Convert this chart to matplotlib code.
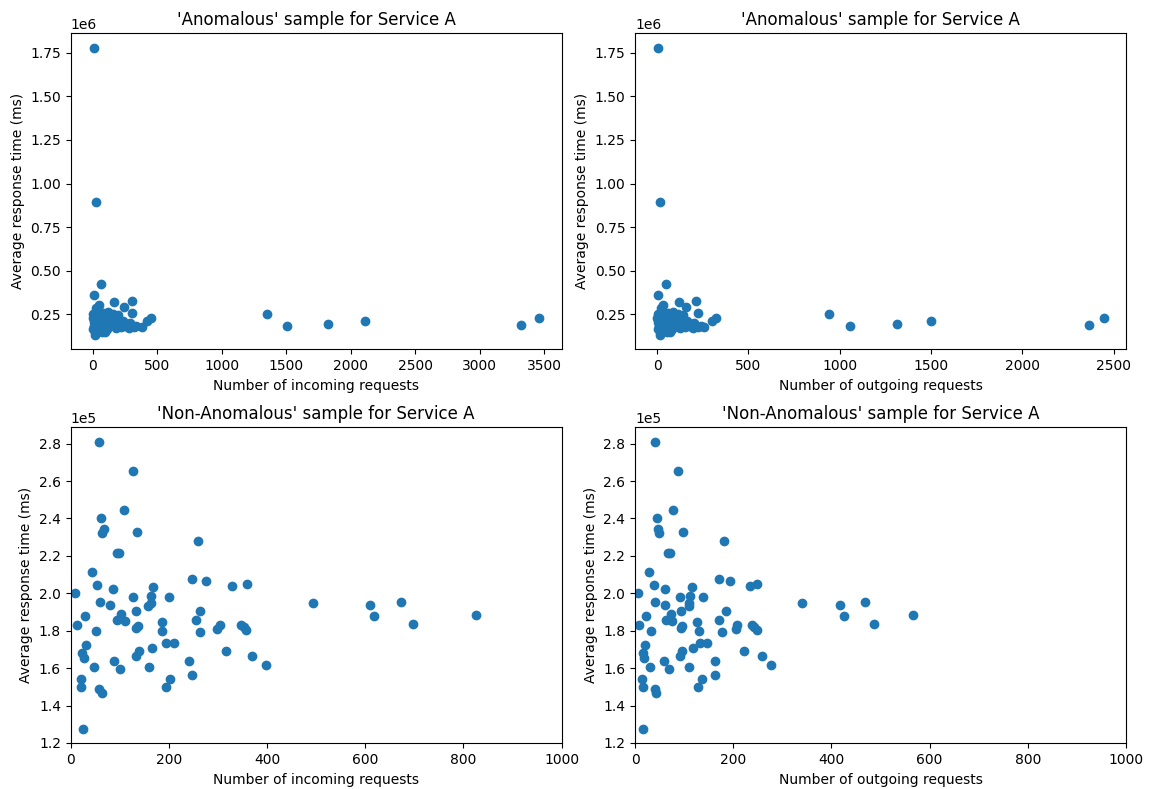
import matplotlib
matplotlib.use('Agg')
import matplotlib.pyplot as plt

# 'Anomalous' sample: incoming / outgoing request counts and mean response time (ms)
anom_incoming = [8, 26, 1354, 1505, 1826, 2110, 3320, 3462,
                 68, 13, 47, 167, 242, 308, 308, 453, 425, 380,
                 5, 10, 15, 20, 25, 21, 8, 30, 35, 40, 55, 60, 65, 70, 80, 85, 90, 99,
                 100, 110, 120, 130, 140, 150, 160, 170, 180, 190, 200, 210, 220, 235,
                 250, 265, 280, 300, 320, 45, 75, 115, 50, 4, 3, 28, 12, 18, 38, 58,
                 95, 125, 145, 175, 205, 230, 260, 290, 340]
anom_outgoing = [5, 18, 939, 1057, 1313, 1500, 2366, 2446,
                 46, 6, 31, 120, 156, 211, 226, 322, 303, 257,
                 3, 7, 11, 14, 18, 15, 6, 22, 24, 29, 38, 43, 45, 50, 57, 60, 63, 70,
                 71, 77, 85, 90, 99, 104, 113, 118, 127, 133, 141, 146, 155, 164,
                 176, 185, 197, 209, 225, 32, 52, 81, 35, 2, 1, 20, 9, 13, 26, 41,
                 66, 88, 101, 123, 143, 162, 182, 203, 238]
anom_response = [1.780e6, 0.893e6, 0.253e6, 0.183e6, 0.193e6, 0.208e6, 0.190e6, 0.230e6,
                 0.424e6, 0.360e6, 0.303e6, 0.319e6, 0.290e6, 0.326e6, 0.259e6, 0.227e6, 0.208e6, 0.179e6,
                 0.250e6, 0.220e6, 0.195e6, 0.175e6, 0.160e6, 0.131e6, 0.205e6, 0.235e6, 0.265e6, 0.280e6,
                 0.245e6, 0.215e6, 0.190e6, 0.170e6, 0.255e6, 0.225e6, 0.200e6, 0.150e6,
                 0.175e6, 0.240e6, 0.260e6, 0.210e6, 0.185e6, 0.230e6, 0.250e6, 0.200e6, 0.170e6,
                 0.220e6, 0.245e6, 0.190e6, 0.175e6, 0.210e6,
                 0.180e6, 0.195e6, 0.170e6, 0.185e6, 0.175e6, 0.155e6, 0.145e6, 0.165e6, 0.185e6,
                 0.165e6, 0.230e6, 0.285e6, 0.180e6, 0.145e6, 0.215e6, 0.195e6,
                 0.235e6, 0.190e6, 0.205e6, 0.215e6, 0.200e6, 0.185e6, 0.190e6, 0.200e6, 0.180e6]

# 'Non-Anomalous' sample
norm_incoming = [58, 126, 108, 61, 67, 63, 135, 95, 99, 260,
                 43, 53, 87, 8, 126, 168, 164, 163, 158, 200,
                 248, 275, 329, 360, 493, 60, 81, 30, 102, 94,
                 111, 133, 13, 51, 134, 138, 187, 187, 255, 264,
                 264, 298, 305, 346, 353, 358, 195, 210, 32, 24,
                 28, 165, 140, 134, 316, 370, 398, 240, 89, 47,
                 101, 159, 247, 203, 195, 22, 21, 57, 63, 25,
                 610, 618, 673, 698, 826]
norm_outgoing = [41, 88, 78, 45, 47, 48, 97, 67, 72, 182,
                 28, 39, 61, 5, 91, 117, 112, 110, 110, 139,
                 172, 194, 235, 248, 340, 41, 60, 23, 74, 64,
                 76, 93, 9, 33, 93, 95, 126, 131, 171, 185,
                 177, 206, 208, 239, 243, 249, 133, 146, 21, 17,
                 19, 118, 96, 91, 221, 258, 276, 163, 59, 31,
                 70, 109, 163, 136, 128, 14, 16, 40, 43, 17,
                 418, 426, 468, 487, 566]
norm_response = [2.810e5, 2.655e5, 2.447e5, 2.400e5, 2.345e5, 2.322e5, 2.326e5, 2.213e5, 2.213e5, 2.277e5,
                 2.112e5, 2.044e5, 2.023e5, 2.001e5, 1.978e5, 2.036e5, 1.985e5, 1.950e5, 1.930e5, 1.978e5,
                 2.076e5, 2.066e5, 2.038e5, 2.050e5, 1.946e5, 1.952e5, 1.936e5, 1.880e5, 1.888e5, 1.856e5,
                 1.852e5, 1.908e5, 1.832e5, 1.800e5, 1.817e5, 1.824e5, 1.845e5, 1.797e5, 1.855e5, 1.908e5,
                 1.793e5, 1.810e5, 1.832e5, 1.832e5, 1.820e5, 1.806e5, 1.736e5, 1.736e5, 1.724e5, 1.682e5,
                 1.656e5, 1.710e5, 1.692e5, 1.667e5, 1.690e5, 1.665e5, 1.619e5, 1.640e5, 1.636e5, 1.608e5,
                 1.594e5, 1.608e5, 1.564e5, 1.543e5, 1.499e5, 1.541e5, 1.499e5, 1.487e5, 1.469e5, 1.275e5,
                 1.938e5, 1.880e5, 1.953e5, 1.836e5, 1.882e5]

fig, axes = plt.subplots(2, 2, figsize=(11.51, 7.89), dpi=100)
plt.subplots_adjust(left=0.0614, right=0.9783, bottom=0.0579, top=0.9578,
                    wspace=0.1495, hspace=0.2473)

ax = axes[0, 0]
ax.scatter(anom_incoming, anom_response)
ax.set_title("'Anomalous' sample for Service A")
ax.set_xlabel('Number of incoming requests')
ax.set_ylabel('Average response time (ms)')

ax = axes[0, 1]
ax.scatter(anom_outgoing, anom_response)
ax.set_title("'Anomalous' sample for Service A")
ax.set_xlabel('Number of outgoing requests')
ax.set_ylabel('Average response time (ms)')

ax = axes[1, 0]
ax.scatter(norm_incoming, norm_response)
ax.set_title("'Non-Anomalous' sample for Service A")
ax.set_xlabel('Number of incoming requests')
ax.set_ylabel('Average response time (ms)')
ax.set_xlim([0, 1000])
ax.ticklabel_format(style='sci', axis='y', scilimits=(0, 0))

ax = axes[1, 1]
ax.scatter(norm_outgoing, norm_response)
ax.set_title("'Non-Anomalous' sample for Service A")
ax.set_xlabel('Number of outgoing requests')
ax.set_ylabel('Average response time (ms)')
ax.set_xlim([0, 1000])
ax.ticklabel_format(style='sci', axis='y', scilimits=(0, 0))

plt.savefig('out.png', dpi=100)
